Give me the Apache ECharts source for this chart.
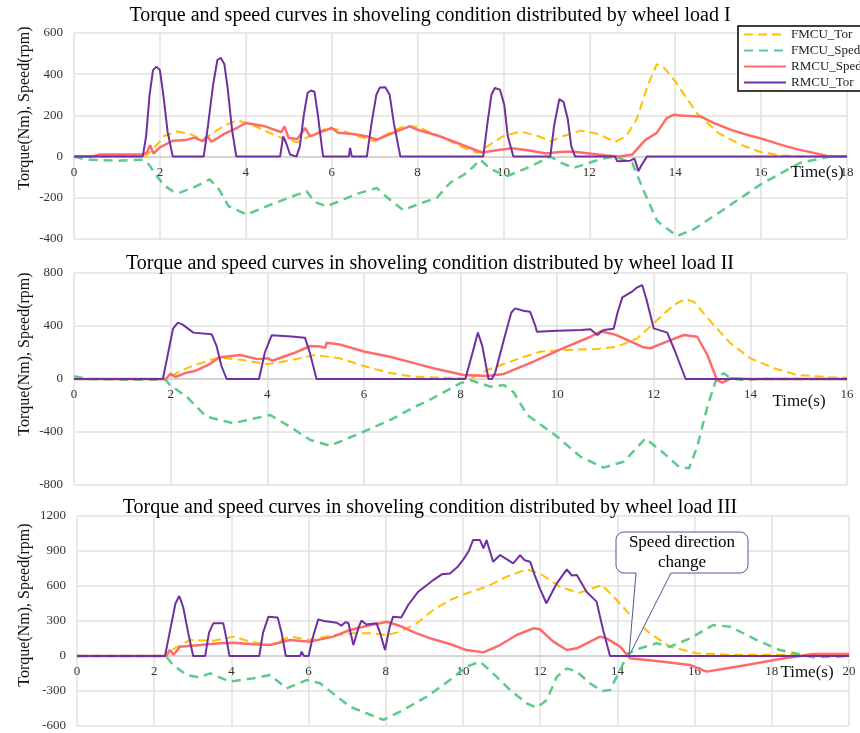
<!DOCTYPE html>
<html><head><meta charset="utf-8">
<script src="https://cdn.jsdelivr.net/npm/echarts@6/dist/echarts.min.js"></script>
<style>html,body{margin:0;padding:0;background:#fff}#c{width:860px;height:733px}</style>
</head><body><div id="c"></div>
<script>
// ---------- Titles / labels ----------
const titles = [
  'Torque and speed curves in shoveling condition distributed by wheel load I',
  'Torque and speed curves in shoveling condition distributed by wheel load II',
  'Torque and speed curves in shoveling condition distributed by wheel load III'
];
const seriesNames = ['FMCU_Tor', 'FMCU_Sped', 'RMCU_Sped', 'RMCU_Tor'];
const yAxisName = 'Torque(Nm), Speed(rpm)';
const xAxisName = 'Time(s)';
const annotationText = 'Speed direction\nchange';
const annotationPoint = [14.3, 0];

// axis ranges
const xMax = [18, 16, 20];
const xInterval = [2, 2, 2];
const yMin = [-400, -800, -600];
const yMax = [600, 800, 1200];
const yInterval = [200, 400, 300];

// ---------- Panel I ----------
const p1_FMCU_Tor = [[0,0],[1.66,0],[1.9,50],[2.1,100],[2.4,122],[2.7,110],[3.0,82],[3.2,110],[3.5,150],[3.8,176],[4.0,165],[4.3,140],[4.6,110],[4.9,85],[5.2,70],[5.5,100],[5.9,140],[6.2,130],[6.6,100],[7.0,74],[7.3,110],[7.7,150],[8.0,144],[8.4,110],[8.8,70],[9.1,40],[9.4,18],[9.7,60],[10.0,100],[10.4,122],[10.8,100],[11.1,74],[11.4,100],[11.8,126],[12.2,110],[12.6,71],[12.85,98],[13.1,180],[13.35,340],[13.57,449],[13.75,430],[14.0,365],[14.5,212],[15.0,115],[15.5,60],[16.0,21],[16.5,5],[17,0],[18,0]];
const p1_FMCU_Sped = [[0,0],[0.3,-15],[1.0,-20],[1.6,-15],[1.75,-40],[1.9,-87],[2.1,-140],[2.3,-168],[2.45,-176],[2.76,-152],[3.16,-111],[3.38,-160],[3.6,-241],[4.02,-281],[4.5,-240],[5.0,-200],[5.42,-168],[5.6,-220],[5.88,-241],[6.2,-215],[6.6,-180],[7.05,-152],[7.3,-200],[7.67,-260],[8.0,-232],[8.45,-200],[8.76,-127],[9.15,-79],[9.46,-15],[9.7,-60],[10.08,-95],[10.5,-60],[10.8,-30],[11.09,0],[11.35,-30],[11.63,-55],[12.0,-30],[12.3,-10],[12.6,0],[13.0,-31],[13.27,-168],[13.58,-313],[14.04,-386],[14.43,-353],[15.13,-257],[15.98,-136],[16.9,-31],[17.62,0],[18,0]];
const p1_RMCU_Sped = [[0,0],[0.4,0],[0.6,10],[1.6,10],[1.7,20],[1.77,55],[1.85,15],[2.0,45],[2.3,77],[2.6,80],[2.8,92],[3.0,75],[3.1,100],[3.2,72],[3.5,110],[3.8,140],[4.0,163],[4.45,147],[4.83,118],[4.9,147],[5.0,90],[5.2,85],[5.38,139],[5.5,98],[5.7,115],[6.0,139],[6.15,116],[6.5,110],[6.83,98],[7.05,82],[7.25,100],[7.6,130],[7.82,147],[8.0,130],[8.5,100],[9.0,60],[9.5,20],[9.8,30],[10.2,40],[10.6,30],[11.0,15],[11.3,22],[11.6,25],[12.0,15],[12.4,5],[12.7,0],[13.0,10],[13.1,34],[13.3,80],[13.57,115],[13.8,187],[13.96,203],[14.2,198],[14.59,195],[14.9,163],[15.3,130],[15.67,106],[16.05,85],[16.45,58],[16.85,35],[17.23,18],[17.6,0],[18,0]];
const p1_RMCU_Tor = [[0,0],[1.6,0],[1.68,100],[1.76,300],[1.84,420],[1.92,437],[2.0,420],[2.08,300],[2.18,120],[2.3,0],[3.02,0],[3.12,150],[3.24,350],[3.34,470],[3.42,479],[3.5,450],[3.58,330],[3.68,130],[3.78,0],[4.8,0],[4.87,98],[4.95,60],[5.03,10],[5.18,0],[5.26,50],[5.35,200],[5.44,310],[5.52,321],[5.6,315],[5.68,200],[5.8,0],[6.4,0],[6.43,42],[6.47,0],[6.82,0],[6.92,150],[7.04,300],[7.12,335],[7.25,337],[7.35,300],[7.45,160],[7.6,0],[9.53,0],[9.62,150],[9.72,300],[9.8,333],[9.92,325],[10.02,250],[10.1,100],[10.23,0],[11.09,0],[11.18,150],[11.3,279],[11.4,265],[11.5,180],[11.58,50],[11.67,0],[12.6,0],[12.65,-23],[12.95,-20],[13.05,-10],[13.1,-40],[13.14,-71],[13.22,-40],[13.34,0],[18,0]];

// ---------- Panel II ----------
const p2_FMCU_Tor = [[0,0],[1.9,0],[2.2,60],[2.5,106],[3.0,163],[3.5,143],[4.0,111],[4.5,143],[5.0,181],[5.5,156],[6.0,98],[6.5,48],[7.0,18],[7.5,12],[8.0,5],[8.2,0],[8.55,68],[9.17,149],[9.65,206],[10.13,219],[10.83,226],[11.24,244],[11.66,307],[12.07,445],[12.41,558],[12.66,604],[12.83,583],[13.24,408],[13.59,269],[14.0,156],[14.49,81],[14.97,30],[15.66,13],[16,10]];
const p2_FMCU_Sped = [[0,20],[0.3,0],[1.0,-5],[1.9,-5],[1.98,-45],[2.33,-133],[2.74,-284],[3.3,-334],[3.7,-300],[4.06,-272],[4.47,-360],[4.89,-460],[5.3,-503],[5.92,-410],[6.6,-300],[7.0,-220],[7.4,-150],[7.99,-33],[8.2,-8],[8.62,-58],[8.9,-45],[9.1,-100],[9.38,-272],[10.0,-435],[10.48,-586],[10.96,-669],[11.38,-624],[11.83,-448],[12.21,-561],[12.52,-662],[12.73,-674],[12.9,-511],[13.11,-209],[13.31,17],[13.45,43],[13.59,5],[13.86,-8],[14.2,0],[16,0]];
const p2_RMCU_Sped = [[0,0],[1.9,0],[2.0,40],[2.1,15],[2.3,45],[2.5,60],[2.8,110],[3.0,163],[3.44,181],[3.8,150],[4.02,156],[4.1,138],[4.54,194],[4.89,249],[5.1,245],[5.2,235],[5.23,274],[5.5,260],[6.02,206],[6.54,168],[7.06,118],[7.44,81],[8.06,30],[8.55,23],[8.9,38],[9.51,131],[10.07,224],[10.69,319],[10.9,360],[11.2,335],[11.38,307],[11.79,239],[11.93,232],[12.35,294],[12.62,332],[12.9,319],[13.11,181],[13.31,-8],[13.42,-28],[13.59,5],[14,0],[16,0]];
const p2_RMCU_Tor = [[0,0],[1.84,0],[1.95,200],[2.05,380],[2.15,425],[2.25,410],[2.47,350],[2.85,337],[2.95,250],[3.05,100],[3.16,0],[3.83,0],[3.95,200],[4.09,330],[4.5,320],[4.78,312],[4.88,200],[5.02,0],[8.1,0],[8.25,200],[8.36,350],[8.45,250],[8.58,0],[8.65,0],[8.72,50],[8.9,300],[9.05,500],[9.13,533],[9.3,515],[9.44,508],[9.55,400],[9.58,357],[10.0,365],[10.5,370],[10.69,375],[10.83,332],[10.96,370],[11.17,380],[11.25,500],[11.35,616],[11.55,659],[11.65,690],[11.76,709],[11.85,600],[12.0,382],[12.28,350],[12.45,200],[12.66,0],[16,0]];

// ---------- Panel III ----------
const p3_FMCU_Tor = [[0,0],[2.3,0],[2.5,60],[2.93,137],[3.53,130],[4.05,166],[4.48,123],[5.0,94],[5.52,166],[6.04,137],[6.64,180],[7.16,194],[7.68,194],[8.03,180],[8.37,208],[8.8,280],[9.23,394],[9.66,480],[10.09,537],[10.61,594],[11.13,680],[11.65,743],[11.99,708],[12.51,594],[13.0,540],[13.3,575],[13.6,608],[13.98,480],[14.41,323],[14.84,194],[15.36,80],[16.05,23],[17,10],[20,10]];
const p3_FMCU_Sped = [[0,0],[2.3,0],[2.49,-77],[2.84,-163],[3.14,-183],[3.45,-149],[3.96,-220],[4.57,-191],[5.0,-163],[5.43,-277],[5.95,-206],[6.3,-234],[7.07,-434],[7.94,-548],[8.37,-477],[9.06,-349],[9.66,-206],[10.09,-91],[10.44,-49],[10.78,-149],[11.22,-291],[11.65,-406],[11.91,-443],[12.17,-377],[12.43,-177],[12.69,-106],[12.95,-134],[13.29,-234],[13.6,-300],[13.81,-291],[14.07,-120],[14.28,23],[14.59,66],[15.02,109],[15.36,80],[15.88,151],[16.48,266],[16.92,251],[17.61,137],[18.21,51],[19.07,-11],[19.68,-6],[20,0]];
const p3_RMCU_Sped = [[0,0],[2.3,0],[2.41,51],[2.5,10],[2.67,80],[3.19,94],[3.71,109],[4.05,114],[4.57,100],[5.0,94],[5.52,137],[6.04,123],[6.64,166],[7.07,223],[7.5,257],[8.03,294],[8.37,257],[8.8,194],[9.23,143],[9.66,103],[10.09,51],[10.53,31],[10.96,94],[11.39,180],[11.82,237],[11.99,229],[12.34,123],[12.69,51],[12.95,66],[13.55,166],[13.72,151],[14.07,80],[14.33,-20],[15.19,-49],[15.88,-77],[16.31,-134],[16.57,-120],[17.35,-77],[18.21,-26],[19.07,17],[20,17]];
const p3_RMCU_Tor = [[0,0],[2.28,0],[2.4,200],[2.55,450],[2.65,514],[2.75,420],[2.88,200],[3.01,0],[3.32,0],[3.42,200],[3.53,280],[3.79,280],[3.87,150],[3.95,0],[4.72,0],[4.82,200],[4.96,337],[5.2,330],[5.3,200],[5.41,0],[5.78,0],[5.82,37],[5.88,0],[6.0,0],[6.1,150],[6.25,314],[6.4,300],[6.73,285],[6.85,260],[6.95,290],[7.03,283],[7.16,94],[7.3,250],[7.37,303],[7.5,270],[7.76,280],[7.85,200],[7.98,51],[8.1,250],[8.19,337],[8.4,330],[8.58,437],[8.84,551],[9.1,617],[9.23,651],[9.45,700],[9.66,708],[9.85,760],[10.0,823],[10.15,900],[10.26,994],[10.44,994],[10.53,923],[10.61,994],[10.78,808],[10.96,865],[11.13,830],[11.3,794],[11.48,865],[11.6,820],[11.74,808],[11.85,700],[11.99,580],[12.16,452],[12.43,623],[12.69,743],[12.82,690],[12.95,694],[13.2,551],[13.46,466],[13.63,223],[13.81,0],[20,0]];

const panels = [
  [p1_FMCU_Tor, p1_FMCU_Sped, p1_RMCU_Sped, p1_RMCU_Tor],
  [p2_FMCU_Tor, p2_FMCU_Sped, p2_RMCU_Sped, p2_RMCU_Tor],
  [p3_FMCU_Tor, p3_FMCU_Sped, p3_RMCU_Sped, p3_RMCU_Tor]
];

// ---------- styles ----------
const FONT = "'Liberation Serif', 'Times New Roman', serif";
const styles = [
  {color: '#FFC000', width: 2, type: [9, 5]},
  {color: '#5CCB8A', width: 2.5, type: [9, 6]},
  {color: '#FF6B6B', width: 2.5, type: 'solid'},
  {color: '#7030A0', width: 2, type: 'solid'}
];
const gridBoxes = [
  {left: 74, top: 33, width: 773, height: 206},
  {left: 74, top: 273, width: 773, height: 212},
  {left: 77, top: 516, width: 772, height: 210}
];
const titleTops = [1, 249, 493];
const GRIDC = '#e2e2e2';

const chart = echarts.init(document.getElementById('c'), null, {renderer: 'canvas'});

const option = {
  animation: false,
  backgroundColor: '#fff',
  title: titles.map((t, i) => ({
    text: t, left: 'center', top: titleTops[i],
    textStyle: {fontFamily: FONT, fontSize: 20, fontWeight: 'normal', color: '#000'}
  })),
  legend: {
    data: seriesNames, orient: 'vertical', left: 738, top: 26,
    itemWidth: 42, itemHeight: 13, itemGap: 3,
    padding: [2, 4, 2, 5],
    borderColor: '#000', borderWidth: 1.5, backgroundColor: '#fff',
    itemStyle: {opacity: 0},
    textStyle: {fontFamily: FONT, fontSize: 13, color: '#222'},
    z: 10
  },
  grid: gridBoxes.map(g => Object.assign({containLabel: false}, g)),
  xAxis: [0, 1, 2].map(i => ({
    type: 'value', gridIndex: i, min: 0, max: xMax[i], interval: xInterval[i],
    position: 'bottom',
    offset: -gridBoxes[i].height * (0 - yMin[i]) / (yMax[i] - yMin[i]),
    axisLine: {onZero: false, lineStyle: {color: '#cfcfcf', width: 1.5}},
    axisTick: {show: false},
    axisLabel: {fontFamily: FONT, fontSize: 13, color: '#333', margin: 9, formatter: v => String(v)},
    splitLine: {show: true, lineStyle: {color: GRIDC, width: 1.5}}
  })),
  yAxis: [0, 1, 2].map(i => ({
    type: 'value', gridIndex: i, min: yMin[i], max: yMax[i], interval: yInterval[i],
    axisLine: {show: false}, axisTick: {show: false},
    axisLabel: {fontFamily: FONT, fontSize: 13, color: '#333', margin: 11, formatter: v => String(v)},
    splitLine: {show: true, lineStyle: {color: GRIDC, width: 1.5}}
  })),
  series: []
};

panels.forEach((arr, pi) => {
  arr.forEach((data, si) => {
    option.series.push({
      name: seriesNames[si], type: 'line', xAxisIndex: pi, yAxisIndex: pi,
      data: data, symbol: 'none', showSymbol: false, smooth: false,
      lineStyle: {color: styles[si].color, width: styles[si].width, type: styles[si].type},
      itemStyle: {color: styles[si].color},
      z: 2 + si
    });
  });
});

chart.setOption(option);

// ---------- graphic texts & callout ----------
const graphics = [];
const yNameCenters = [[25, 108], [25, 354], [25, 605]];
yNameCenters.forEach(c => {
  graphics.push({
    type: 'text', x: c[0], y: c[1], rotation: Math.PI / 2,
    style: {text: yAxisName, fontFamily: FONT, fontSize: 16, fill: '#111', align: 'center', verticalAlign: 'middle'},
    z: 20
  });
});
const timePos = [[817, 173], [799, 402], [807, 673]];
timePos.forEach(p => {
  graphics.push({
    type: 'text', x: p[0], y: p[1],
    style: {text: xAxisName, fontFamily: FONT, fontSize: 17, fill: '#111', align: 'center', verticalAlign: 'middle'},
    z: 20
  });
});

// callout outline (rounded box + pointer to the annotated data point)
const tip = chart.convertToPixel({gridIndex: 2}, annotationPoint);
const bx0 = 616, bx1 = 748, by0 = 532, by1 = 573, r = 8;
const tb0 = 636, tb1 = 671;
function arc(cx, cy, a0, a1) {
  const pts = [];
  for (let k = 0; k <= 6; k++) {
    const a = a0 + (a1 - a0) * k / 6;
    pts.push([cx + r * Math.cos(a), cy + r * Math.sin(a)]);
  }
  return pts;
}
let pts = [];
pts = pts.concat(arc(bx0 + r, by0 + r, Math.PI, 1.5 * Math.PI));
pts = pts.concat(arc(bx1 - r, by0 + r, 1.5 * Math.PI, 2 * Math.PI));
pts = pts.concat(arc(bx1 - r, by1 - r, 0, 0.5 * Math.PI));
pts.push([tb1, by1], [tip[0], tip[1]], [tb0, by1]);
pts = pts.concat(arc(bx0 + r, by1 - r, 0.5 * Math.PI, Math.PI));
graphics.push({
  type: 'polygon', shape: {points: pts},
  style: {fill: '#fff', stroke: '#4a5d8f', lineWidth: 1},
  z: 30
});
graphics.push({
  type: 'text', x: (bx0 + bx1) / 2, y: (by0 + by1) / 2,
  style: {text: annotationText, fontFamily: FONT, fontSize: 17, lineHeight: 20, fill: '#000', align: 'center', verticalAlign: 'middle'},
  z: 31
});

chart.setOption({graphic: graphics});
</script></body></html>
